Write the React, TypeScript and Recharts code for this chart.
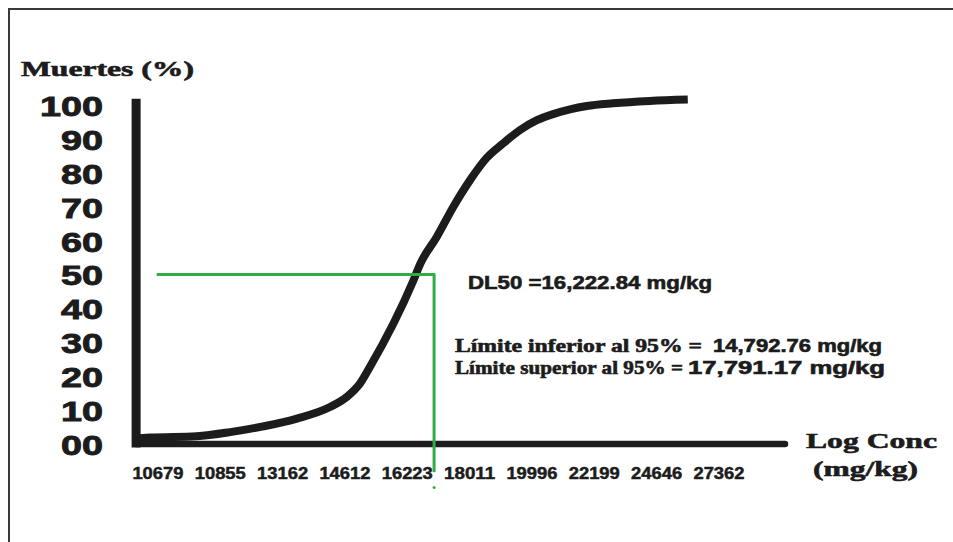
import React from "react";
import { LineChart, Line, XAxis, YAxis, ReferenceLine, ReferenceDot } from "recharts";

// x positions are in tick-index units (0 = first concentration label)
const concLabels = ["10679", "10855", "13162", "14612", "16223", "18011", "19996", "22199", "24646", "27362"];
const curveX = [-0.3, -0.13, 0.62, 1.16, 1.69, 2.23, 2.76, 3.03, 3.24, 3.4, 4.1, 4.21, 4.47, 4.74, 5.01, 5.27, 5.54, 5.81, 6.08, 6.34, 6.61, 6.88, 7.3, 7.89, 8.5];
const muertes = [1.7, 1.9, 2.3, 3.5, 5.2, 7.5, 10.9, 13.9, 17.8, 22.7, 48.3, 53.2, 61.0, 70.0, 77.9, 84.3, 88.7, 92.6, 95.5, 97.3, 98.7, 99.7, 100.5, 101.2, 101.6];
const yTicks = [0, 10, 20, 30, 40, 50, 60, 70, 80, 90, 100];
const dl50Pos = 4.43;
const dl50Pct = 50;

const data = curveX.map((x, i) => ({ x, muertes: muertes[i] }));

const SANS = "'Liberation Sans', Arial, sans-serif";
const SERIF = "'Liberation Serif', 'Times New Roman', serif";
const INK = "#1c1c1c";
const GREEN = "#2fae48";

const heavy = { stroke: INK, strokeWidth: 0.6, paintOrder: "stroke" } as const;

function YTick({ x, y, payload }: any) {
  const label = payload.value === 0 ? "00" : String(payload.value);
  return (
    <text x={x} y={y + 11} textAnchor="end" fill={INK} fontFamily={SANS} fontWeight="bold" fontSize={28}
      textLength={label.length * 21} lengthAdjust="spacingAndGlyphs" {...heavy} strokeWidth={0.9}>
      {label}
    </text>
  );
}

function XTick({ x, y, payload }: any) {
  const label = concLabels[payload.value] ?? "";
  return (
    <text x={x} y={y + 35} textAnchor="middle" fill={INK} fontFamily={SANS} fontWeight="bold" fontSize={17}
      textLength={51} lengthAdjust="spacingAndGlyphs" {...heavy} strokeWidth={0.5}>
      {label}
    </text>
  );
}

export default function App() {
  return (
    <div style={{ position: "absolute", left: 0, top: 0, width: 953, height: 542, background: "#fff" }}>
      <div style={{ position: "absolute", left: 8, top: 8, right: 0, bottom: 0, borderLeft: "2px solid #3a3a3a", borderTop: "2px solid #3a3a3a" }} />
      <LineChart width={953} height={542} data={data} margin={{ top: 88, right: 163, bottom: 68, left: 33 }}>
        <XAxis dataKey="x" type="number" domain={[-0.4, 10.14]} ticks={concLabels.map((_, i) => i)}
          axisLine={false} tickLine={false} tickSize={0} tickMargin={0} height={30} tick={<XTick />} interval={0} />
        <YAxis type="number" domain={[0, 105]} ticks={yTicks} axisLine={false} tickLine={false}
          tickSize={0} tickMargin={30} width={100} tick={<YTick />} interval={0} />
        <ReferenceLine segment={[{ x: -0.35, y: -1 }, { x: -0.35, y: 101.8 }]} stroke={INK} strokeWidth={9} ifOverflow="visible" />
        <ReferenceLine segment={[{ x: -0.35, y: 0 }, { x: 10.06, y: 0 }]} stroke={INK} strokeWidth={6.5} strokeLinecap="round" ifOverflow="visible" />
        <Line dataKey="muertes" type="monotone" stroke={INK} strokeWidth={8} dot={false} isAnimationActive={false} />
        <ReferenceLine segment={[{ x: -0.02, y: dl50Pct }, { x: dl50Pos + 0.02, y: dl50Pct }]} stroke={GREEN} strokeWidth={3} ifOverflow="visible" />
        <ReferenceLine segment={[{ x: dl50Pos, y: dl50Pct }, { x: dl50Pos, y: -8.3 }]} stroke={GREEN} strokeWidth={3} ifOverflow="visible" />
        <ReferenceDot x={dl50Pos} y={-12.8} r={1.5} fill={GREEN} stroke="none" ifOverflow="visible" />
      </LineChart>
      <svg width={953} height={542} style={{ position: "absolute", left: 0, top: 0, pointerEvents: "none" }}>
        <g {...heavy}>
          <text x={21} y={76} fill={INK} fontFamily={SERIF} fontWeight="bold" fontSize={21} textLength={173} lengthAdjust="spacingAndGlyphs">Muertes (%)</text>
          <text x={806} y={448} fill={INK} fontFamily={SERIF} fontWeight="bold" fontSize={22} textLength={131} lengthAdjust="spacingAndGlyphs">Log Conc</text>
          <text x={813} y={476} fill={INK} fontFamily={SERIF} fontWeight="bold" fontSize={22} textLength={105} lengthAdjust="spacingAndGlyphs">(mg/kg)</text>
          <text x={468} y={289} fill={INK} fontFamily={SANS} fontWeight="bold" fontSize={18} textLength={244} lengthAdjust="spacingAndGlyphs">DL50 =16,222.84 mg/kg</text>
          <text x={455} y={352} fill={INK} fontFamily={SERIF} fontWeight="bold" fontSize={18.5} textLength={247} lengthAdjust="spacingAndGlyphs">Límite inferior al 95% =</text>
          <text x={713} y={352} fill={INK} fontFamily={SANS} fontWeight="bold" fontSize={17.5} textLength={169} lengthAdjust="spacingAndGlyphs">14,792.76 mg/kg</text>
          <text x={455} y={374} fill={INK} fontFamily={SERIF} fontWeight="bold" fontSize={18.5} textLength={228} lengthAdjust="spacingAndGlyphs">Límite superior al 95% =</text>
          <text x={688} y={374} fill={INK} fontFamily={SANS} fontWeight="bold" fontSize={17.5} textLength={197} lengthAdjust="spacingAndGlyphs">17,791.17 mg/kg</text>
        </g>
      </svg>
    </div>
  );
}
